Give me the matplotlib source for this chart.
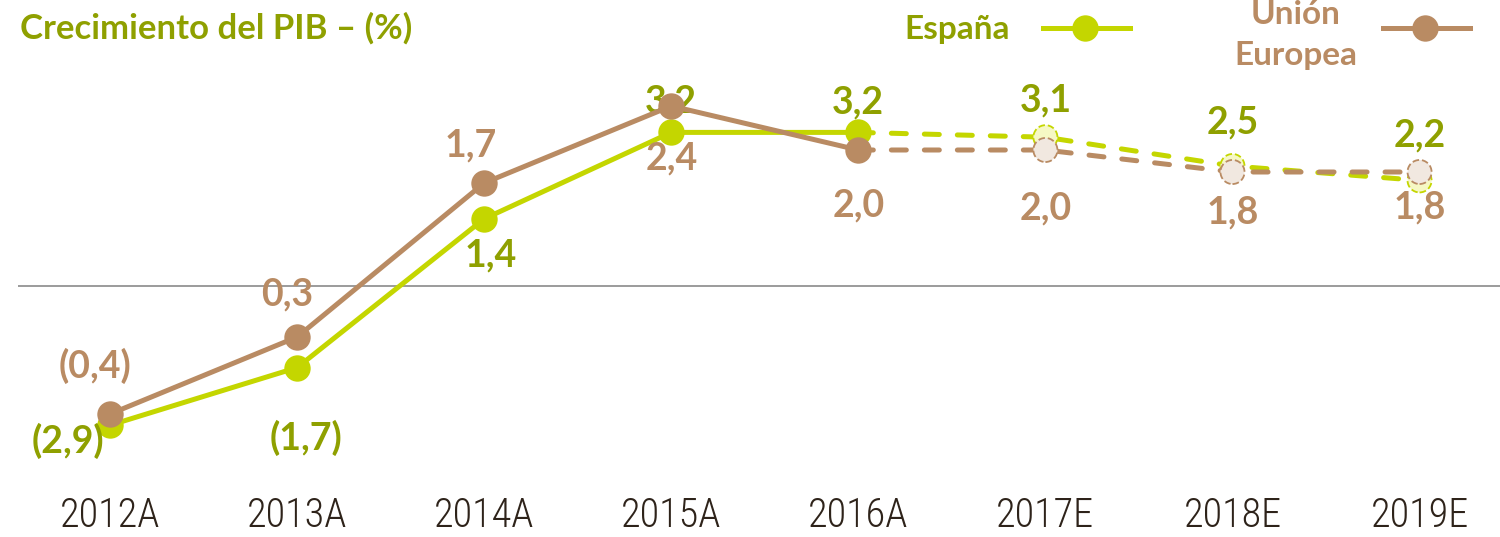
import matplotlib
matplotlib.use("Agg")
import matplotlib.pyplot as plt
from matplotlib.lines import Line2D

# data
years = ["2012A", "2013A", "2014A", "2015A", "2016A", "2017E", "2018E", "2019E"]
espana = [-2.9, -1.7, 1.4, 3.2, 3.2, 3.1, 2.5, 2.2]
ue = [-0.4, 0.3, 1.7, 2.4, 2.0, 2.0, 1.8, 1.8]
espana_lbl = ["(2,9)", "(1,7)", "1,4", "3,2", "3,2", "3,1", "2,5", "2,2"]
ue_lbl = ["(0,4)", "0,3", "1,7", "2,4", "2,0", "2,0", "1,8", "1,8"]
n_real = 5  # 2012A-2016A actual, rest estimates

GREEN = "#c4d600"
GREEN_TXT = "#8fa000"
BROWN = "#b98b63"
GREEN_PALE = "#f6f8c4"
BROWN_PALE = "#f1e8e0"
TICK = "#2e231a"

# label offsets in pixels (dx, dy up)
esp_off = [(-42, -16), (9, -70), (7, -37), (0, 31), (0, 30), (0, 37), (0, 44), (0, 45)]
ue_off = [(-15, 48), (-10, 43), (-13, 38), (0, -52), (0, -55), (0, -58), (0, -40), (0, -35)]

fig = plt.figure(figsize=(15, 5.37), dpi=100)
ax = fig.add_axes([0.012, 47 / 537, 0.988, 490 / 537])
ax2 = ax.twinx()

x = list(range(len(years)))
ax.set_xlim(-0.492, 7.43)
ax.set_ylim((286 - 490) / 48, 286 / 48)
ax2.set_ylim((370 - 490) / 110, 370 / 110)

ax.axhline(0, color="#9b9b9b", lw=1.4, zorder=1)

lw = 3.6
for a, vals, col, pale in [(ax, espana, GREEN, GREEN_PALE), (ax2, ue, BROWN, BROWN_PALE)]:
    a.plot(x[:n_real], vals[:n_real], color=col, lw=lw, solid_capstyle="round",
           marker="o", ms=19, markeredgewidth=0, zorder=3)
    a.plot(x[n_real - 1:], vals[n_real - 1:], color=col, lw=lw, dashes=(3, 3.6),
           dash_capstyle="round", zorder=2)
    a.scatter(x[n_real:], vals[n_real:], s=300, facecolor=pale, edgecolor=col,
              linewidths=1.3, linestyle="--", zorder=4)

for i in x:
    ax.annotate(espana_lbl[i], (x[i], espana[i]), xytext=esp_off[i], textcoords="offset pixels",
                ha="center", va="center", color=GREEN_TXT, fontsize=27,
                fontweight="bold", family="Lato", zorder=6)
    ax2.annotate(ue_lbl[i], (x[i], ue[i]), xytext=ue_off[i], textcoords="offset pixels",
                 ha="center", va="center", color=BROWN, fontsize=27,
                 fontweight="bold", family="Lato", zorder=6)

ax.set_xticks(x)
ax.set_xticklabels(years, fontsize=29, color=TICK,
                   family=["Roboto Condensed", "Liberation Sans Narrow", "Roboto"],
                   fontweight="light")
ax.tick_params(axis="x", length=0, pad=5)
ax.set_yticks([])
ax2.set_yticks([])
for a in (ax, ax2):
    for s in a.spines.values():
        s.set_visible(False)
    a.patch.set_visible(False)

fig.text(20 / 1500, 1 - 28 / 537, "Crecimiento del PIB – (%)", color=GREEN_TXT, fontsize=25,
         fontweight="bold", family="Lato", va="center", ha="left")

# legend
fig.text(1010 / 1500, 1 - 30 / 537, "España", color=GREEN_TXT, fontsize=24,
         fontweight="bold", family="Lato", va="center", ha="right")
fig.add_artist(Line2D([1043 / 1500, 1130 / 1500], [1 - 28 / 537] * 2, color=GREEN, lw=lw))
fig.add_artist(Line2D([1085 / 1500], [1 - 28 / 537], color=GREEN, marker="o", ms=19, mew=0))
fig.text(1296 / 1500, 1 - 35 / 537, "Unión\nEuropea", color=BROWN, fontsize=24,
         fontweight="bold", family="Lato", va="center", ha="center", linespacing=1.5)
fig.add_artist(Line2D([1383 / 1500, 1470 / 1500], [1 - 28 / 537] * 2, color=BROWN, lw=lw))
fig.add_artist(Line2D([1425 / 1500], [1 - 28 / 537], color=BROWN, marker="o", ms=19, mew=0))

fig.savefig("out.png", dpi=100)
